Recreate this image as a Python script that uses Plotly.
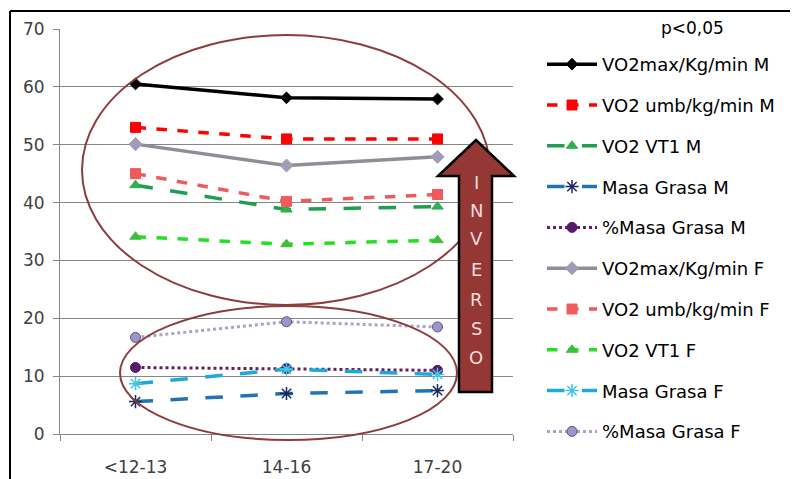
import plotly.graph_objects as go

categories = ["<12-13", "14-16", "17-20"]

vo2max_m = [60.5, 58.1, 57.9]
vo2umb_m = [53.0, 51.0, 51.0]
vo2vt1_m = [43.0, 38.8, 39.3]
masa_m = [5.6, 7.0, 7.5]
pmasa_m = [11.5, 11.3, 11.0]
vo2max_f = [50.1, 46.4, 47.9]
vo2umb_f = [45.0, 40.2, 41.4]
vo2vt1_f = [34.1, 32.8, 33.5]
masa_f = [8.7, 11.2, 10.3]
pmasa_f = [16.7, 19.4, 18.5]

names = ["VO2max/Kg/min M", "VO2 umb/kg/min M", "VO2 VT1 M", "Masa Grasa M", "%Masa Grasa M",
         "VO2max/Kg/min F", "VO2 umb/kg/min F", "VO2 VT1 F", "Masa Grasa F", "%Masa Grasa F"]

series = [vo2max_m, vo2umb_m, vo2vt1_m, masa_m, pmasa_m,
          vo2max_f, vo2umb_f, vo2vt1_f, masa_f, pmasa_f]

styles = [
    dict(color="#000000", dash="solid", symbol="diamond", mcolor="#000000", size=9, lw=3.5),
    dict(color="#FF0000", dash="dash", symbol="square", mcolor="#FF0000", size=10, lw=3.5),
    dict(color="#1E9E50", dash="longdash", symbol="triangle-up", mcolor="#2DB04F", size=10, lw=3.5),
    dict(color="#2273B5", dash="longdash", symbol="asterisk-open", mcolor="#1A2A60", size=11, lw=3.5),
    dict(color="#6A1F5C", dash="dot", symbol="circle", mcolor="#5A1A6A", size=10, lw=3),
    dict(color="#8E8E98", dash="solid", symbol="diamond", mcolor="#A09CB6", size=10, lw=3.5),
    dict(color="#F05A5C", dash="dash", symbol="square", mcolor="#F05A5C", size=10, lw=3.5),
    dict(color="#22E022", dash="dash", symbol="triangle-up", mcolor="#3CC03C", size=10, lw=3.5),
    dict(color="#1EA8DC", dash="longdash", symbol="asterisk-open", mcolor="#40C8E8", size=11, lw=3.5),
    dict(color="#A8A4C4", dash="dot", symbol="circle", mcolor="#9C96CC", size=10, lw=3),
]

fig = go.Figure()
for i, (n, s, st) in enumerate(zip(names, series, styles)):
    open_sym = "open" in st["symbol"]
    fig.add_trace(go.Scatter(
        x=categories, y=s, name=n, mode="lines+markers",
        legendgroup=str(i),
        line=dict(color=st["color"], dash=st["dash"], width=st["lw"]),
        marker=dict(symbol=st["symbol"], color=st["mcolor"], size=st["size"],
                    line=dict(color="#555577" if i == 9 else st["mcolor"], width=1.5 if open_sym else 1)),
    ))

# page body has an 8px default margin, so the figure is offset by 8px
OFF = 8
W, H = 798 - OFF, 479 - OFF
# plot area in reference page pixels: x 60..513, y 434..29
L, R, B, T = 60, 513, 434, 29
def px(x):
    return (x - L) / (R - L)
def py(y):
    return (B - y) / (B - T)

shapes = []
# outer frame lines
shapes.append(dict(type="line", xref="paper", yref="paper", x0=px(10), x1=px(800), y0=py(11), y1=py(11),
                   line=dict(color="#000000", width=2)))
shapes.append(dict(type="line", xref="paper", yref="paper", x0=px(10), x1=px(10), y0=py(11), y1=py(482),
                   line=dict(color="#000000", width=2)))
# ellipses
shapes.append(dict(type="circle", xref="paper", yref="paper", x0=px(82), x1=px(490), y0=py(305), y1=py(35),
                   line=dict(color="#8E3B3B", width=2)))
shapes.append(dict(type="circle", xref="paper", yref="paper", x0=px(120), x1=px(457), y0=py(440), y1=py(306),
                   line=dict(color="#8E3B3B", width=2)))
# arrow
pts = [(459, 392), (459, 176), (438, 176), (476, 140), (514, 176), (492, 176), (492, 392)]
path = "M " + " L ".join(f"{px(a):.4f},{py(b):.4f}" for a, b in pts) + " Z"
shapes.append(dict(type="path", xref="paper", yref="paper", path=path,
                   fillcolor="#953735", line=dict(color="#000000", width=2.5)))

FONT = "DejaVu Sans"
annotations = []
letters = "INVERSO"
ys = [182, 210, 238, 269, 299, 328, 357]
for ch, yy in zip(letters, ys):
    annotations.append(dict(text=ch, xref="paper", yref="paper", x=px(476), y=py(yy), showarrow=False,
                            font=dict(color="#F2DCDB", size=18, family=FONT), xanchor="center", yanchor="middle"))
annotations.append(dict(text="p<0,05", xref="paper", yref="paper", x=px(692), y=py(28), showarrow=False,
                        font=dict(color="#000000", size=17, family=FONT), xanchor="center", yanchor="middle"))

fig.update_layout(
    width=W, height=H,
    margin=dict(l=L - OFF, r=W - (R - OFF), t=T - OFF, b=H - (B - OFF), autoexpand=False),
    paper_bgcolor="white", plot_bgcolor="white",
    font=dict(family=FONT, size=17, color="#000000"),
    showlegend=True,
    legend=dict(
        x=px(542), y=py(46), xanchor="left", yanchor="top",
        font=dict(size=18, family=FONT, color="#000000"),
        tracegroupgap=14.4, traceorder="grouped",
        bgcolor="rgba(0,0,0,0)", itemwidth=50, maxheight=470,
    ),
    xaxis=dict(
        type="category", range=[-0.5, 2.5], showgrid=False, automargin=False,
        showline=True, linecolor="#868686", linewidth=1,
        ticks="outside", ticklen=6, tickcolor="#868686", tickson="boundaries",
        tickfont=dict(size=17, color="#404040", family=FONT), ticklabelstandoff=18,
    ),
    yaxis=dict(
        range=[0, 70], dtick=10, showgrid=True, gridcolor="#868686", gridwidth=1, automargin=False,
        showline=True, linecolor="#868686", linewidth=1,
        ticks="outside", ticklen=6, tickcolor="#868686",
        tickfont=dict(size=17, color="#404040", family=FONT), zeroline=False, ticklabelstandoff=5,
    ),
    shapes=shapes,
    annotations=annotations,
)

fig.write_html("out.html")
